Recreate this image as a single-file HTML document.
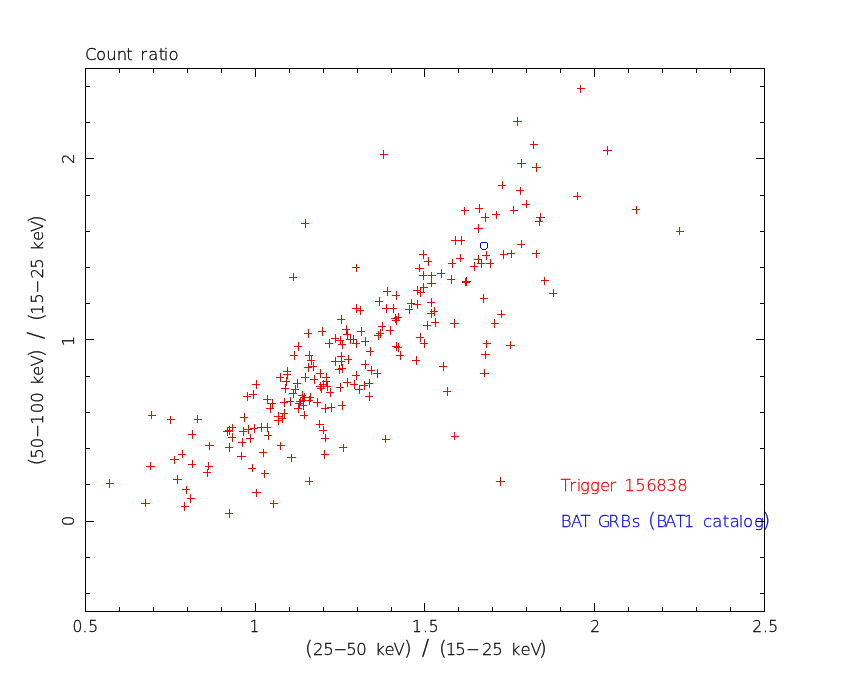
<!DOCTYPE html>
<html><head><meta charset="utf-8"><title>Count ratio</title>
<style>
html,body{margin:0;padding:0;background:#fff;}
body{width:850px;height:680px;overflow:hidden;}
svg{display:block;}
text{font-family:'DejaVu Sans', 'Liberation Sans', sans-serif;font-weight:200;stroke-width:0.3px;}
</style></head>
<body>
<svg width="850" height="680" viewBox="0 0 850 680">
<rect width="850" height="680" fill="#fff"/>
<g opacity="0.999"><text x="85.0 95.96 106.32 116.72 126.24 132.71 140.17 148.2 158.74 163.78 168.46" y="60" fill="#000" stroke="#000" font-size="16.5">Count ratio</text>
<text x="72.6 82.54 88.17" y="632" fill="#000" stroke="#000" font-size="15.5">0.5</text>
<text x="249.62" y="632" fill="#000" stroke="#000" font-size="15.5">1</text>
<text x="412.12 423.04 428.67" y="632" fill="#000" stroke="#000" font-size="15.5">1.5</text>
<text x="590.31" y="632" fill="#000" stroke="#000" font-size="15.5">2</text>
<text x="752.31 763.04 768.17" y="632" fill="#000" stroke="#000" font-size="15.5">2.5</text>
<text x="305.04 313.0 323.36 333.59 346.36 356.28 366.78 375.18 384.4 393.38 404.04 411.84 421.96 429.04 439.04 445.81 455.36 466.09 482.0 492.36 502.85 510.68 520.4 530.38 539.04" y="655" fill="#000" stroke="#000" font-size="16.5"><tspan font-size="20">(</tspan>25−50 keV<tspan font-size="20">)</tspan> <tspan font-size="21">/</tspan> <tspan font-size="20">(</tspan>15−25 keV<tspan font-size="20">)</tspan></text>
<text x="68.78" y="521" fill="#000" stroke="#000" font-size="16.5" transform="rotate(-90 74 521)">0</text>
<text x="67.81" y="340" fill="#000" stroke="#000" font-size="16.5" transform="rotate(-90 74 340)">1</text>
<text x="68.0" y="158" fill="#000" stroke="#000" font-size="16.5" transform="rotate(-90 74 158)">2</text>
<text x="41.54 48.36 58.78 69.09 82.31 93.78 104.28 114.78 121.68 130.9 140.38 150.04 157.84 167.96 175.04 186.04 192.31 203.36 213.59 228.5 238.36 248.85 256.18 265.9 274.88 284.04" y="464" fill="#000" stroke="#000" font-size="16.5" transform="rotate(-90 43 464)"><tspan font-size="20">(</tspan>50−100 keV<tspan font-size="20">)</tspan> <tspan font-size="21">/</tspan> <tspan font-size="20">(</tspan>15−25 keV<tspan font-size="20">)</tspan></text>
<text x="560.46 569.17 576.78 580.03 590.03 599.9 609.17 615.96 624.31 635.36 646.17 656.26 666.49 677.26" y="491" fill="#ff0000" stroke="#ff0000" font-size="16.5">Trigger 156838</text>
<text x="560.64 570.88 580.46 590.54 597.8 608.2 620.14 631.67 640.27 648.04 656.14 664.88 675.46 683.81 694.31 702.91 712.2 722.74 729.7 738.76 742.96 754.03 762.54" y="527" fill="#0000ff" stroke="#0000ff" font-size="16.5">BAT GRBs <tspan font-size="20">(</tspan>BAT1 catalog<tspan font-size="20">)</tspan></text></g>
<g shape-rendering="crispEdges">
<path fill="#000" d="M85 68h680v1h-680zM85 611h680v1h-680zM85 68h1v544h-1zM764 68h1v544h-1zM119 68h1v5h-1zM119 607h1v5h-1zM153 68h1v5h-1zM153 607h1v5h-1zM187 68h1v5h-1zM187 607h1v5h-1zM221 68h1v5h-1zM221 607h1v5h-1zM289 68h1v5h-1zM289 607h1v5h-1zM323 68h1v5h-1zM323 607h1v5h-1zM357 68h1v5h-1zM357 607h1v5h-1zM391 68h1v5h-1zM391 607h1v5h-1zM458 68h1v5h-1zM458 607h1v5h-1zM492 68h1v5h-1zM492 607h1v5h-1zM526 68h1v5h-1zM526 607h1v5h-1zM560 68h1v5h-1zM560 607h1v5h-1zM628 68h1v5h-1zM628 607h1v5h-1zM662 68h1v5h-1zM662 607h1v5h-1zM696 68h1v5h-1zM696 607h1v5h-1zM730 68h1v5h-1zM730 607h1v5h-1zM255 68h1v9h-1zM255 603h1v9h-1zM424 68h1v9h-1zM424 603h1v9h-1zM594 68h1v9h-1zM594 603h1v9h-1zM85 86h5v1h-5zM760 86h5v1h-5zM85 122h5v1h-5zM760 122h5v1h-5zM85 195h5v1h-5zM760 195h5v1h-5zM85 231h5v1h-5zM760 231h5v1h-5zM85 267h5v1h-5zM760 267h5v1h-5zM85 303h5v1h-5zM760 303h5v1h-5zM85 376h5v1h-5zM760 376h5v1h-5zM85 412h5v1h-5zM760 412h5v1h-5zM85 448h5v1h-5zM760 448h5v1h-5zM85 484h5v1h-5zM760 484h5v1h-5zM85 557h5v1h-5zM760 557h5v1h-5zM85 593h5v1h-5zM760 593h5v1h-5zM85 158h9v1h-9zM756 158h9v1h-9zM85 339h9v1h-9zM756 339h9v1h-9zM85 521h9v1h-9zM756 521h9v1h-9z"/>
<path fill="#ff0000" d="M106 483h8v1h-8zM109 479h1v9h-1zM173 479h9v1h-9zM177 475h1v9h-1zM182 489h8v1h-8zM186 486h1v8h-1zM187 498h8v1h-8zM190 494h1v9h-1zM141 503h9v1h-9zM145 499h1v8h-1zM181 506h8v1h-8zM184 502h1v9h-1zM225 513h8v1h-8zM229 509h1v9h-1zM252 492h9v1h-9zM256 489h1v8h-1zM270 503h8v1h-8zM273 500h1v8h-1zM305 481h8v1h-8zM309 477h1v8h-1zM496 481h9v1h-9zM500 477h1v9h-1zM261 473h8v1h-8zM264 470h1v8h-1zM248 468h8v1h-8zM252 464h1v8h-1zM203 472h8v1h-8zM207 469h1v8h-1zM205 466h8v1h-8zM208 462h1v8h-1zM146 466h9v1h-9zM150 462h1v8h-1zM188 464h8v1h-8zM192 460h1v8h-1zM170 459h9v1h-9zM174 456h1v8h-1zM178 454h8v1h-8zM182 450h1v8h-1zM205 445h9v1h-9zM209 442h1v8h-1zM188 434h8v1h-8zM192 430h1v9h-1zM148 415h8v1h-8zM151 411h1v8h-1zM167 419h8v1h-8zM170 416h1v8h-1zM194 419h8v1h-8zM197 415h1v8h-1zM237 456h9v1h-9zM241 452h1v8h-1zM259 452h8v1h-8zM263 449h1v8h-1zM225 447h8v1h-8zM229 443h1v9h-1zM277 445h8v1h-8zM280 442h1v8h-1zM238 442h8v1h-8zM242 438h1v9h-1zM228 437h8v1h-8zM232 433h1v9h-1zM246 438h8v1h-8zM250 434h1v9h-1zM264 435h8v1h-8zM268 431h1v9h-1zM239 431h8v1h-8zM243 427h1v9h-1zM244 429h8v1h-8zM248 425h1v9h-1zM250 428h8v1h-8zM254 424h1v9h-1zM257 427h8v1h-8zM261 423h1v9h-1zM263 427h8v1h-8zM267 423h1v9h-1zM228 427h8v1h-8zM232 424h1v8h-1zM225 430h8v1h-8zM229 426h1v9h-1zM223 431h8v1h-8zM227 427h1v9h-1zM240 417h8v1h-8zM244 413h1v9h-1zM274 416h8v1h-8zM278 412h1v9h-1zM274 420h8v1h-8zM278 416h1v9h-1zM278 418h8v1h-8zM282 414h1v9h-1zM280 413h8v1h-8zM284 409h1v9h-1zM280 402h8v1h-8zM284 398h1v9h-1zM266 408h8v1h-8zM270 404h1v9h-1zM268 403h8v1h-8zM272 399h1v9h-1zM263 399h8v1h-8zM267 395h1v9h-1zM281 388h8v1h-8zM285 384h1v9h-1zM252 384h8v1h-8zM256 380h1v9h-1zM276 377h8v1h-8zM280 373h1v9h-1zM249 394h8v1h-8zM253 390h1v9h-1zM243 396h8v1h-8zM247 392h1v9h-1zM286 401h8v1h-8zM290 397h1v9h-1zM313 402h8v1h-8zM317 398h1v9h-1zM321 408h8v1h-8zM325 404h1v9h-1zM327 407h8v1h-8zM331 403h1v9h-1zM294 408h8v1h-8zM298 404h1v9h-1zM300 415h8v1h-8zM304 411h1v8h-1zM316 424h8v1h-8zM319 420h1v8h-1zM319 430h8v1h-8zM323 426h1v8h-1zM321 438h8v1h-8zM325 434h1v8h-1zM339 447h8v1h-8zM343 444h1v8h-1zM321 454h8v1h-8zM324 450h1v9h-1zM287 457h9v1h-9zM291 454h1v8h-1zM382 439h8v1h-8zM385 435h1v8h-1zM451 436h8v1h-8zM454 432h1v8h-1zM338 405h8v1h-8zM342 401h1v9h-1zM298 395h8v1h-8zM302 391h1v9h-1zM306 397h8v1h-8zM310 393h1v9h-1zM300 397h8v1h-8zM304 393h1v9h-1zM305 400h8v1h-8zM309 396h1v9h-1zM296 401h8v1h-8zM300 397h1v9h-1zM299 400h8v1h-8zM303 396h1v9h-1zM295 403h8v1h-8zM299 399h1v9h-1zM299 405h8v1h-8zM303 401h1v9h-1zM291 389h8v1h-8zM295 385h1v9h-1zM289 393h8v1h-8zM293 389h1v9h-1zM293 383h8v1h-8zM297 379h1v9h-1zM301 377h8v1h-8zM305 373h1v9h-1zM310 379h8v1h-8zM314 375h1v9h-1zM316 373h8v1h-8zM320 369h1v9h-1zM322 377h8v1h-8zM326 373h1v9h-1zM322 381h8v1h-8zM326 377h1v9h-1zM319 384h8v1h-8zM323 380h1v9h-1zM316 386h8v1h-8zM320 382h1v9h-1zM323 386h8v1h-8zM327 382h1v9h-1zM317 388h8v1h-8zM321 384h1v9h-1zM326 392h8v1h-8zM330 388h1v9h-1zM283 371h8v1h-8zM287 367h1v9h-1zM283 374h8v1h-8zM287 370h1v9h-1zM282 381h8v1h-8zM286 377h1v9h-1zM304 367h8v1h-8zM308 363h1v9h-1zM309 366h8v1h-8zM313 362h1v9h-1zM304 333h8v1h-8zM308 329h1v9h-1zM325 343h8v1h-8zM329 339h1v9h-1zM294 346h8v1h-8zM298 342h1v9h-1zM290 355h8v1h-8zM294 351h1v9h-1zM305 355h8v1h-8zM309 351h1v9h-1zM307 360h8v1h-8zM311 356h1v9h-1zM331 361h8v1h-8zM335 357h1v9h-1zM331 338h8v1h-8zM335 334h1v9h-1zM336 340h8v1h-8zM340 336h1v9h-1zM338 344h8v1h-8zM342 340h1v9h-1zM343 334h8v1h-8zM347 330h1v9h-1zM346 339h8v1h-8zM350 335h1v9h-1zM349 339h8v1h-8zM353 335h1v9h-1zM352 343h8v1h-8zM356 339h1v9h-1zM361 341h8v1h-8zM365 337h1v9h-1zM374 335h8v1h-8zM378 331h1v9h-1zM376 333h8v1h-8zM380 329h1v9h-1zM378 326h8v1h-8zM382 322h1v9h-1zM386 330h8v1h-8zM390 326h1v9h-1zM357 331h8v1h-8zM361 327h1v9h-1zM318 331h8v1h-8zM322 327h1v9h-1zM342 329h8v1h-8zM346 325h1v9h-1zM337 319h8v1h-8zM341 315h1v9h-1zM352 308h8v1h-8zM356 304h1v9h-1zM356 310h8v1h-8zM360 306h1v9h-1zM337 356h8v1h-8zM341 352h1v9h-1zM337 361h8v1h-8zM341 357h1v9h-1zM344 359h8v1h-8zM348 355h1v9h-1zM361 364h8v1h-8zM365 360h1v9h-1zM367 370h8v1h-8zM371 366h1v9h-1zM335 369h8v1h-8zM339 365h1v9h-1zM338 368h8v1h-8zM342 364h1v9h-1zM352 375h8v1h-8zM356 371h1v9h-1zM373 373h8v1h-8zM377 369h1v9h-1zM366 351h8v1h-8zM370 347h1v9h-1zM343 382h8v1h-8zM347 378h1v9h-1zM336 387h8v1h-8zM340 383h1v9h-1zM350 384h8v1h-8zM354 380h1v9h-1zM355 389h8v1h-8zM359 385h1v9h-1zM360 385h8v1h-8zM364 381h1v9h-1zM365 383h8v1h-8zM369 379h1v9h-1zM365 396h8v1h-8zM369 392h1v9h-1zM392 346h8v1h-8zM396 342h1v9h-1zM394 347h8v1h-8zM398 343h1v9h-1zM396 355h8v1h-8zM400 351h1v9h-1zM412 360h8v1h-8zM416 356h1v9h-1zM416 337h8v1h-8zM420 333h1v9h-1zM420 343h8v1h-8zM424 339h1v9h-1zM439 366h8v1h-8zM443 362h1v9h-1zM443 391h8v1h-8zM447 387h1v9h-1zM415 268h9v1h-9zM419 264h1v8h-1zM419 275h8v1h-8zM423 271h1v9h-1zM428 275h8v1h-8zM431 272h1v8h-1zM437 273h8v1h-8zM441 269h1v9h-1zM447 279h8v1h-8zM451 275h1v9h-1zM427 283h9v1h-9zM431 279h1v8h-1zM420 287h8v1h-8zM423 283h1v9h-1zM413 290h8v1h-8zM417 286h1v9h-1zM417 292h8v1h-8zM420 288h1v9h-1zM383 291h8v1h-8zM387 287h1v9h-1zM392 295h8v1h-8zM396 291h1v9h-1zM375 301h8v1h-8zM379 297h1v9h-1zM382 308h8v1h-8zM386 304h1v9h-1zM389 308h8v1h-8zM393 304h1v9h-1zM407 303h8v1h-8zM411 299h1v9h-1zM413 304h8v1h-8zM417 300h1v9h-1zM405 309h8v1h-8zM409 305h1v9h-1zM427 302h8v1h-8zM431 298h1v9h-1zM430 311h8v1h-8zM434 307h1v9h-1zM427 313h8v1h-8zM431 309h1v9h-1zM394 317h8v1h-8zM398 313h1v8h-1zM391 318h8v1h-8zM395 314h1v9h-1zM392 320h8v1h-8zM396 316h1v9h-1zM431 322h8v1h-8zM435 318h1v9h-1zM423 325h8v1h-8zM427 321h1v9h-1zM450 323h9v1h-9zM454 319h1v9h-1zM419 254h8v1h-8zM423 250h1v9h-1zM424 261h8v1h-8zM428 257h1v9h-1zM448 263h8v1h-8zM452 259h1v9h-1zM461 210h8v1h-8zM464 207h1v8h-1zM475 208h8v1h-8zM479 204h1v9h-1zM481 217h8v1h-8zM485 213h1v9h-1zM492 214h8v1h-8zM496 211h1v8h-1zM510 210h8v1h-8zM513 206h1v8h-1zM522 204h8v1h-8zM526 200h1v8h-1zM474 228h9v1h-9zM478 224h1v9h-1zM451 240h8v1h-8zM455 236h1v9h-1zM457 240h8v1h-8zM461 236h1v9h-1zM517 244h8v1h-8zM521 240h1v8h-1zM500 254h8v1h-8zM503 250h1v9h-1zM507 253h8v1h-8zM511 250h1v8h-1zM532 253h8v1h-8zM536 250h1v8h-1zM456 258h8v1h-8zM460 254h1v8h-1zM482 255h8v1h-8zM486 251h1v9h-1zM474 259h8v1h-8zM478 255h1v9h-1zM477 263h8v1h-8zM481 259h1v9h-1zM486 263h8v1h-8zM490 259h1v9h-1zM470 266h8v1h-8zM474 262h1v9h-1zM462 281h9v1h-9zM466 277h1v9h-1zM462 282h8v1h-8zM465 278h1v8h-1zM480 298h8v1h-8zM483 294h1v9h-1zM497 314h8v1h-8zM501 310h1v8h-1zM491 323h8v1h-8zM494 319h1v9h-1zM483 343h8v1h-8zM486 340h1v8h-1zM506 345h9v1h-9zM510 341h1v8h-1zM481 354h9v1h-9zM485 351h1v8h-1zM480 373h9v1h-9zM484 369h1v8h-1zM573 196h8v1h-8zM577 192h1v8h-1zM536 217h9v1h-9zM540 213h1v9h-1zM535 221h8v1h-8zM539 217h1v9h-1zM541 280h8v1h-8zM544 277h1v8h-1zM549 293h8v1h-8zM553 289h1v8h-1zM577 88h8v1h-8zM580 85h1v8h-1zM603 150h9v1h-9zM607 146h1v9h-1zM632 209h8v1h-8zM636 206h1v8h-1zM676 231h8v1h-8zM679 227h1v8h-1zM513 121h9v1h-9zM517 117h1v9h-1zM530 144h8v1h-8zM533 141h1v8h-1zM517 163h9v1h-9zM521 159h1v9h-1zM532 167h9v1h-9zM536 163h1v9h-1zM498 185h8v1h-8zM502 181h1v8h-1zM516 190h8v1h-8zM520 187h1v8h-1zM380 154h8v1h-8zM383 150h1v9h-1zM301 223h8v1h-8zM305 219h1v9h-1zM289 277h8v1h-8zM293 273h1v8h-1zM352 267h8v1h-8zM356 264h1v8h-1z"/>
<path fill="#0000ff" d="M481 242h6v1h-6zM480 243h1v5h-1zM487 243h1v5h-1zM481 248h1v1h-1zM486 248h1v1h-1zM482 249h4v1h-4z"/>
</g>
</svg>
</body></html>
